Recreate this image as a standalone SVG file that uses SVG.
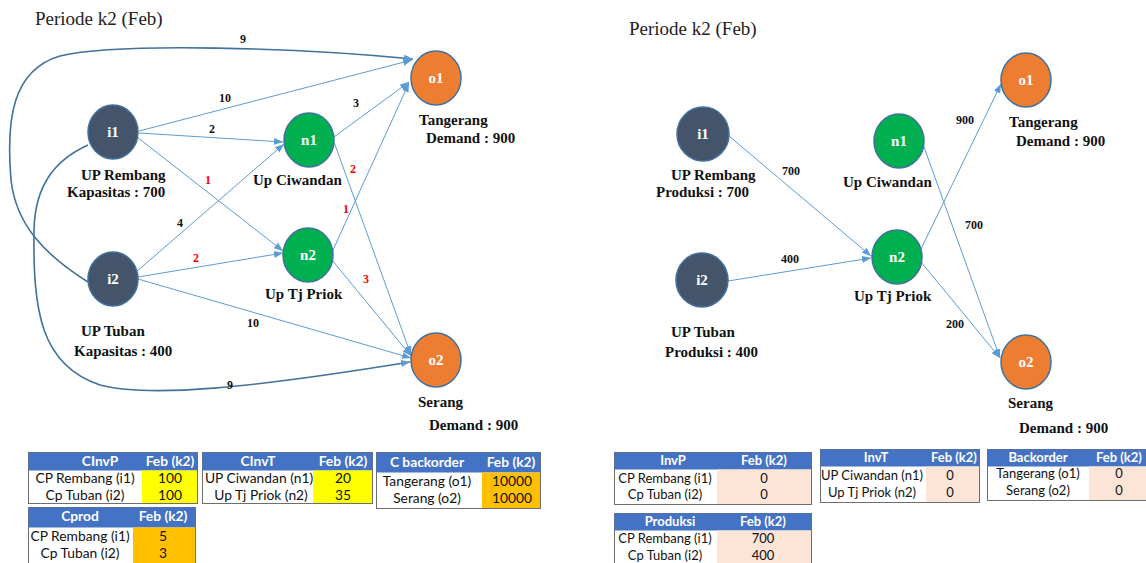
<svg xmlns="http://www.w3.org/2000/svg" width="1146" height="563" viewBox="0 0 1146 563">
<style>
.edge{stroke:#5B9BD5;stroke-width:1;fill:none;marker-end:url(#arr)}
.curve{stroke:#41719C;stroke-width:1.6;fill:none;marker-end:url(#arr)}
.ni{fill:#44546A;stroke:#41719C;stroke-width:1.5}
.nn{fill:#00B050;stroke:#41719C;stroke-width:1.5}
.no{fill:#ED7D31;stroke:#41719C;stroke-width:1.5}
.nl{font-family:"Liberation Serif",serif;font-weight:bold;font-size:15px;fill:#fff;text-anchor:middle}
.lb{font-family:"Liberation Serif",serif;font-weight:bold;font-size:15px;fill:#111}
.el{font-family:"Liberation Serif",serif;font-weight:bold;font-size:12px;fill:#111;text-anchor:middle}
.red{fill:#FF0000}
.title{font-family:"Liberation Serif",serif;font-size:19px;fill:#222}
.tb{fill:#fff;stroke:#6E6E6E;stroke-width:1}
.hd{fill:#4472C4}
.th{font-family:Lato,"Noto Sans",sans-serif;font-weight:bold;font-size:13.8px;fill:#fff;text-anchor:middle}
.td{font-family:Lato,"Noto Sans",sans-serif;font-size:13.8px;fill:#111;text-anchor:middle}
.r .th,.r .td{font-size:13px}
.yel{fill:#FFFF00}
.org{fill:#FFC000}
.pch{fill:#FCE4D6}
</style>
<defs>
<marker id="arr" markerUnits="userSpaceOnUse" markerWidth="10" markerHeight="8" refX="9" refY="3.5" orient="auto">
<path d="M0,0 L9,3.5 L0,7 z" fill="#5B9BD5"/>
</marker>
</defs>

<text class="title" x="35" y="25">Periode k2 (Feb)</text>
<text class="title" x="629" y="35">Periode k2 (Feb)</text>

<g id="connectors">
<path class="curve" d="M88,282 C45,255 16,225 11,180 C6,120 12,70 60,56 C120,42 300,48 413,59"/>
<path class="curve" d="M88,145 C55,160 35,185 34,230 C33,310 40,365 100,385 C150,398 250,388 410,362"/>
<path class="edge" d="M139,131 L412,60"/>
<path class="edge" d="M139,133 L283,142"/>
<path class="edge" d="M137,137 L283,251"/>
<path class="edge" d="M136,272 L284,144"/>
<path class="edge" d="M138,277 L283,253"/>
<path class="edge" d="M138,279 L411,358"/>
<path class="edge" d="M334,137 L409,82"/>
<path class="edge" d="M334,142 L411,355"/>
<path class="edge" d="M333,250 L409,83"/>
<path class="edge" d="M332,260 L411,356"/>

<path class="edge" d="M729,136 L871,256"/>
<path class="edge" d="M728,281 L871,258"/>
<path class="edge" d="M921,249 L1001,84"/>
<path class="edge" d="M924,147 L1000,358"/>
<path class="edge" d="M921,262 L1000,358"/>

<text class="el" x="243" y="43">9</text>
<text class="el" x="225" y="102">10</text>
<text class="el" x="212" y="133">2</text>
<text class="el" x="356" y="107">3</text>
<text class="el red" x="208" y="184">1</text>
<text class="el red" x="353" y="173">2</text>
<text class="el" x="180" y="227">4</text>
<text class="el red" x="196" y="262">2</text>
<text class="el red" x="346" y="213">1</text>
<text class="el red" x="366" y="283">3</text>
<text class="el" x="253" y="327">10</text>
<text class="el" x="230" y="389">9</text>

<text class="el" x="791" y="175">700</text>
<text class="el" x="965" y="124">900</text>
<text class="el" x="974" y="229">700</text>
<text class="el" x="790" y="263">400</text>
<text class="el" x="955" y="328">200</text>
</g>

<g id="L-i1"><ellipse class="ni" cx="113" cy="132" rx="25" ry="27"/><text class="nl" x="113" y="137">i1</text>
<text class="lb" x="81" y="180">UP Rembang</text><text class="lb" x="67" y="197">Kapasitas : 700</text></g>
<g id="L-n1"><ellipse class="nn" cx="309" cy="140" rx="25" ry="27"/><text class="nl" x="309" y="145">n1</text>
<text class="lb" x="253" y="185">Up Ciwandan</text></g>
<g id="L-o1"><ellipse class="no" cx="436" cy="78" rx="25" ry="27"/><text class="nl" x="436" y="83">o1</text>
<text class="lb" x="419" y="125">Tangerang</text><text class="lb" x="426" y="143">Demand : 900</text></g>
<g id="L-i2"><ellipse class="ni" cx="113" cy="279" rx="25" ry="27"/><text class="nl" x="113" y="284">i2</text>
<text class="lb" x="81" y="336">UP Tuban</text><text class="lb" x="74" y="356">Kapasitas : 400</text></g>
<g id="L-n2"><ellipse class="nn" cx="308" cy="255" rx="25" ry="27"/><text class="nl" x="308" y="260">n2</text>
<text class="lb" x="265" y="299">Up Tj Priok</text></g>
<g id="L-o2"><ellipse class="no" cx="436" cy="360" rx="25" ry="27"/><text class="nl" x="436" y="365">o2</text>
<text class="lb" x="418" y="407">Serang</text><text class="lb" x="429" y="430">Demand : 900</text></g>

<g id="R-i1"><ellipse class="ni" cx="703" cy="134" rx="26" ry="27"/><text class="nl" x="703" y="139">i1</text>
<text class="lb" x="671" y="180">UP Rembang</text><text class="lb" x="656" y="197">Produksi : 700</text></g>
<g id="R-n1"><ellipse class="nn" cx="899" cy="141" rx="25" ry="27"/><text class="nl" x="899" y="146">n1</text>
<text class="lb" x="843" y="187">Up Ciwandan</text></g>
<g id="R-o1"><ellipse class="no" cx="1026" cy="80" rx="25" ry="27"/><text class="nl" x="1026" y="85">o1</text>
<text class="lb" x="1009" y="127">Tangerang</text><text class="lb" x="1016" y="146">Demand : 900</text></g>
<g id="R-i2"><ellipse class="ni" cx="702" cy="280" rx="26" ry="27"/><text class="nl" x="702" y="285">i2</text>
<text class="lb" x="671" y="337">UP Tuban</text><text class="lb" x="665" y="357">Produksi : 400</text></g>
<g id="R-n2"><ellipse class="nn" cx="897" cy="257" rx="25" ry="27"/><text class="nl" x="897" y="262">n2</text>
<text class="lb" x="854" y="301">Up Tj Priok</text></g>
<g id="R-o2"><ellipse class="no" cx="1026" cy="362" rx="25" ry="27"/><text class="nl" x="1026" y="367">o2</text>
<text class="lb" x="1008" y="408">Serang</text><text class="lb" x="1019" y="433">Demand : 900</text></g>

<g id="T-CInvP">
<rect class="tb" x="28.5" y="452.5" width="169" height="51"/>
<rect class="hd" x="28.5" y="452.5" width="169" height="18"/>
<rect class="yel" x="142" y="470.5" width="55" height="32.5"/>
<text class="th" x="100" y="466">CInvP</text><text class="th" x="170" y="466">Feb (k2)</text>
<text class="td" x="85" y="483">CP Rembang (i1)</text><text class="td" x="170" y="483">100</text>
<text class="td" x="85" y="500">Cp Tuban (i2)</text><text class="td" x="170" y="500">100</text>
</g>
<g id="T-CInvT">
<rect class="tb" x="202.5" y="452.5" width="170" height="51"/>
<rect class="hd" x="202.5" y="452.5" width="170" height="18"/>
<rect class="yel" x="313" y="470.5" width="59" height="32.5"/>
<text class="th" x="258" y="466">CInvT</text><text class="th" x="343" y="466">Feb (k2)</text>
<text class="td" x="259" y="483">UP Ciwandan (n1)</text><text class="td" x="343" y="483">20</text>
<text class="td" x="261" y="500">Up Tj Priok (n2)</text><text class="td" x="343" y="500">35</text>
</g>
<g id="T-Cbackorder">
<rect class="tb" x="376.5" y="452.5" width="164" height="56"/>
<rect class="hd" x="376.5" y="452.5" width="164" height="20"/>
<rect class="org" x="482" y="472.5" width="58" height="35.5"/>
<text class="th" x="427" y="467">C backorder</text><text class="th" x="511" y="467">Feb (k2)</text>
<text class="td" x="427" y="486">Tangerang (o1)</text><text class="td" x="512" y="486">10000</text>
<text class="td" x="427" y="503">Serang (o2)</text><text class="td" x="512" y="503">10000</text>
</g>
<g id="T-Cprod">
<rect class="tb" x="28.5" y="507.5" width="167" height="60"/>
<rect class="hd" x="28.5" y="507.5" width="167" height="20"/>
<rect class="org" x="133" y="527.5" width="62" height="36"/>
<text class="th" x="80" y="521">Cprod</text><text class="th" x="163" y="521">Feb (k2)</text>
<text class="td" x="80" y="541">CP Rembang (i1)</text><text class="td" x="163" y="541">5</text>
<text class="td" x="80" y="558">Cp Tuban (i2)</text><text class="td" x="163" y="558">3</text>
</g>

<g id="T-InvP" class="r">
<rect class="tb" x="614.5" y="452.5" width="197" height="52"/>
<rect class="hd" x="614.5" y="452.5" width="197" height="17"/>
<rect class="pch" x="717" y="469.5" width="94" height="34.5"/>
<text class="th" x="673" y="465">InvP</text><text class="th" x="764" y="465">Feb (k2)</text>
<text class="td" x="665" y="483">CP Rembang (i1)</text><text class="td" x="764" y="483">0</text>
<text class="td" x="665" y="499">Cp Tuban (i2)</text><text class="td" x="764" y="499">0</text>
</g>
<g id="T-InvT" class="r">
<rect class="tb" x="820.5" y="449.5" width="159" height="53"/>
<rect class="hd" x="820.5" y="449.5" width="159" height="17"/>
<rect class="pch" x="926" y="466.5" width="53" height="35.5"/>
<text class="th" x="876" y="462">InvT</text><text class="th" x="954" y="462">Feb (k2)</text>
<text class="td" x="872" y="480">UP Ciwandan (n1)</text><text class="td" x="950" y="480">0</text>
<text class="td" x="872" y="497">Up Tj Priok (n2)</text><text class="td" x="950" y="497">0</text>
</g>
<g id="T-Backorder" class="r">
<rect class="tb" x="987.5" y="449.5" width="162" height="51"/>
<rect class="hd" x="987.5" y="449.5" width="162" height="17"/>
<rect class="pch" x="1089" y="466.5" width="60" height="33.5"/>
<text class="th" x="1038" y="462">Backorder</text><text class="th" x="1119" y="462">Feb (k2)</text>
<text class="td" x="1038" y="478">Tangerang (o1)</text><text class="td" x="1119" y="478">0</text>
<text class="td" x="1038" y="495">Serang (o2)</text><text class="td" x="1119" y="495">0</text>
</g>
<g id="T-Produksi" class="r">
<rect class="tb" x="614.5" y="513.5" width="197" height="55"/>
<rect class="hd" x="614.5" y="513.5" width="197" height="17"/>
<rect class="pch" x="717" y="530.5" width="94" height="33"/>
<text class="th" x="670" y="526">Produksi</text><text class="th" x="763" y="526">Feb (k2)</text>
<text class="td" x="665" y="543">CP Rembang (i1)</text><text class="td" x="763" y="543">700</text>
<text class="td" x="665" y="560">Cp Tuban (i2)</text><text class="td" x="763" y="560">400</text>
</g>
</svg>
